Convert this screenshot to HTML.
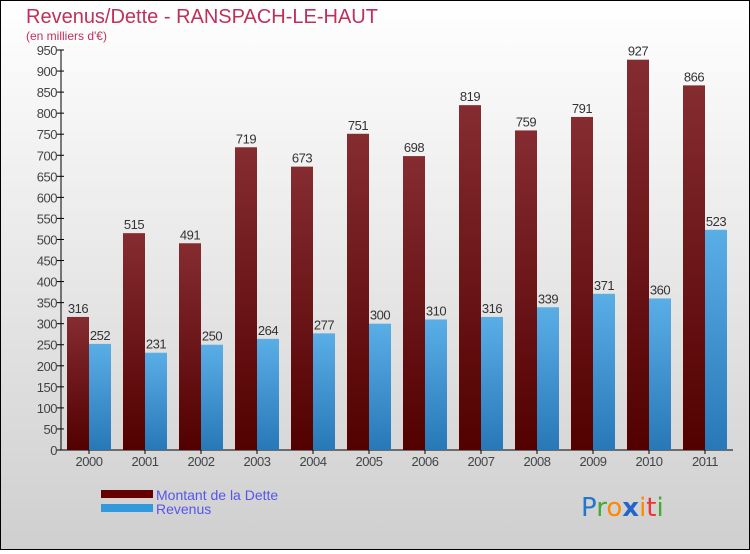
<!DOCTYPE html>
<html><head><meta charset="utf-8"><style>
html,body{margin:0;padding:0}
body{width:750px;height:550px;overflow:hidden;font-family:"Liberation Sans",sans-serif}
#wrap{position:relative;width:748px;height:548px;border:1px solid #000;background:linear-gradient(#ffffff,#cfcfcf)}
</style></head><body>
<div id="wrap">
<svg id="chart" width="748" height="548">
<defs>
<linearGradient id="gd" x1="0" y1="0" x2="0" y2="1"><stop offset="0" stop-color="#852c31"/><stop offset="1" stop-color="#520000"/></linearGradient>
<linearGradient id="gr" x1="0" y1="0" x2="0" y2="1"><stop offset="0" stop-color="#5aaee6"/><stop offset="1" stop-color="#2878b8"/></linearGradient>
</defs>
<text x="25" y="22" font-size="20" fill="#c0305a">Revenus/Dette - RANSPACH-LE-HAUT</text>
<text x="25" y="39" font-size="12" fill="#c0305a">(en milliers d'€)</text>
<g id="plot"></g>
<rect x="100" y="489" width="52" height="8" fill="#660000"/>
<rect x="100" y="503" width="52" height="8" fill="#3399dd"/>
<text x="155" y="499" font-size="14" fill="#5555ee">Montant de la Dette</text>
<text x="155" y="513" font-size="14" fill="#5555ee">Revenus</text>
<text x="580" y="515" font-size="26" font-family="DejaVu Sans, sans-serif"><tspan fill="#2277cc">P</tspan><tspan fill="#44aa33">r</tspan><tspan fill="#ff8800">o</tspan><tspan fill="#2266cc" font-weight="bold">x</tspan><tspan fill="#ff8800">i</tspan><tspan fill="#ee3333">t</tspan><tspan fill="#44aa33">i</tspan></text>
</svg>
</div>
<script>
const years=["2000","2001","2002","2003","2004","2005","2006","2007","2008","2009","2010","2011"];
const dette=[316,515,491,719,673,751,698,819,759,791,927,866];
const revenus=[252,231,250,264,277,300,310,316,339,371,360,523];
const yTicks=[0,50,100,150,200,250,300,350,400,450,500,550,600,650,700,750,800,850,900,950];
const NS="http://www.w3.org/2000/svg";
const g=document.getElementById('plot');
const x0=60,slot=56,y0=449,yMax=950,yH=400;
const Y=v=>y0-v/yMax*yH;
const X=i=>x0+i*slot;
function mk(t,a){const e=document.createElementNS(NS,t);for(const k in a)e.setAttribute(k,a[k]);g.appendChild(e);return e;}
const ax=mk('line',{x1:x0,y1:Y(950),x2:x0,y2:y0,stroke:'#000'});


const bx=mk('line',{x1:x0,y1:y0,x2:X(12),y2:y0,stroke:'#000'});


yTicks.forEach(v=>{
 const l=mk('line',{x1:x0-4,x2:x0+3,y1:Y(v),y2:Y(v),stroke:'#000'});
 
 
 const t=mk('text',{x:x0-4,y:Y(v)+5,'text-anchor':'end','font-size':13,fill:'#444','letter-spacing':'-0.5'});
 t.textContent=v;
 
 
});
years.forEach((yr,i)=>{
 const s=X(i);
 const tk=mk('line',{x1:s+slot/2,x2:s+slot/2,y1:y0,y2:y0+4,stroke:'#000'});
 
 
 const d=mk('rect',{x:s+6,y:Y(dette[i]),width:22,height:y0-Y(dette[i]),fill:'url(#gd)'});
 
 
 const r=mk('rect',{x:s+28,y:Y(revenus[i]),width:22,height:y0-Y(revenus[i]),fill:'url(#gr)'});
 
 
 const td=mk('text',{x:s+17,y:Y(dette[i])-4,'text-anchor':'middle','font-size':13,fill:'#333','letter-spacing':'-0.5'});
 td.textContent=dette[i];
 
 
 const tr=mk('text',{x:s+39,y:Y(revenus[i])-4,'text-anchor':'middle','font-size':13,fill:'#333','letter-spacing':'-0.5'});
 tr.textContent=revenus[i];
 
 
 const xl=mk('text',{x:s+slot/2,y:y0+16,'text-anchor':'middle','font-size':13,fill:'#444','letter-spacing':'-0.5'});
 xl.textContent=yr;
 
 
});
</script>
</body></html>
